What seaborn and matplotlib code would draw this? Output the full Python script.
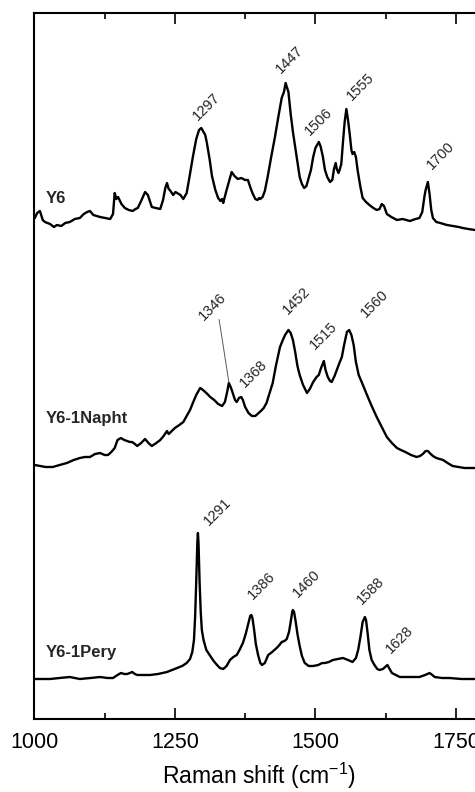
import numpy as np
import pandas as pd
import matplotlib
matplotlib.use("Agg")
import matplotlib.pyplot as plt
from matplotlib.ticker import MultipleLocator
import seaborn as sns

# Raman spectra (wavenumber in cm^-1, intensity in arbitrary units)
y6_shift = [1001, 1005, 1010, 1015, 1019, 1028, 1035, 1040, 1048, 1055, 1063, 1072, 1081, 1088, 1094,
            1099, 1105, 1111, 1117, 1126, 1135, 1140, 1143, 1146, 1149, 1155, 1161, 1168, 1175, 1180,
            1184, 1190, 1197, 1202, 1206, 1209, 1216, 1224, 1229, 1233, 1236, 1239, 1241, 1247, 1251,
            1254, 1260, 1265, 1271, 1276, 1282, 1288, 1293, 1297, 1300, 1304, 1307, 1312, 1316, 1322,
            1327, 1331, 1334, 1336, 1342, 1347, 1351, 1356, 1362, 1368, 1375, 1380, 1384, 1388, 1393,
            1397, 1400, 1402, 1406, 1410, 1415, 1421, 1428, 1434, 1440, 1444, 1447, 1452, 1456, 1460,
            1464, 1468, 1472, 1476, 1480, 1484, 1487, 1492, 1496, 1500, 1506, 1509, 1513, 1517, 1521,
            1526, 1530, 1533, 1536, 1538, 1541, 1543, 1546, 1549, 1552, 1555, 1558, 1561, 1564, 1566,
            1569, 1572, 1575, 1580, 1584, 1590, 1596, 1603, 1609, 1614, 1618, 1622, 1627, 1635, 1645,
            1655, 1668, 1678, 1685, 1690, 1694, 1696, 1700, 1703, 1706, 1709, 1715, 1722, 1734, 1745,
            1755, 1762, 1772, 1784]
y6_int = [14, 19, 21, 12, 10, 8, 5, 7, 6, 9, 10, 13, 14, 18, 20,
          21, 17, 16, 15, 14, 13, 18, 39, 33, 35, 28, 24, 22, 21, 23,
          24, 31, 40, 37, 30, 25, 24, 23, 32, 44, 49, 43, 42, 37, 40,
          39, 37, 33, 39, 55, 75, 93, 102, 104, 101, 97, 89, 72, 56, 42,
          34, 31, 33, 29, 42, 52, 60, 56, 53, 54, 52, 52, 45, 39, 33,
          32, 34, 33, 35, 41, 55, 74, 95, 115, 134, 140, 149, 140, 118, 100,
          85, 70, 55, 48, 44, 46, 52, 62, 75, 84, 90, 86, 76, 62, 55,
          50, 52, 63, 69, 63, 59, 62, 68, 90, 110, 123, 112, 98, 82, 78,
          80, 75, 62, 45, 34, 30, 27, 24, 22, 23, 28, 26, 18, 15, 12,
          13, 11, 13, 14, 20, 36, 42, 50, 38, 22, 14, 10, 9, 7, 6,
          5, 4, 3, 2]

napht_shift = [1001, 1010, 1020, 1033, 1045, 1058, 1070, 1081, 1090, 1099, 1108, 1117, 1125, 1131, 1137,
               1143, 1148, 1154, 1160, 1165, 1170, 1174, 1179, 1183, 1190, 1197, 1203, 1209, 1217, 1224,
               1230, 1236, 1239, 1241, 1250, 1258, 1265, 1272, 1277, 1282, 1288, 1295, 1300, 1306, 1313,
               1320, 1327, 1334, 1339, 1343, 1346, 1350, 1353, 1357, 1360, 1364, 1368, 1371, 1375, 1381,
               1387, 1393, 1397, 1403, 1408, 1413, 1418, 1424, 1430, 1437, 1442, 1446, 1452, 1456, 1460,
               1464, 1468, 1472, 1478, 1485, 1490, 1496, 1502, 1506, 1510, 1515, 1518, 1522, 1526, 1529,
               1534, 1538, 1542, 1547, 1551, 1556, 1560, 1564, 1568, 1572, 1577, 1583, 1591, 1600, 1609,
               1618, 1627, 1636, 1645, 1652, 1660, 1670, 1680, 1686, 1691, 1696, 1700, 1705, 1709, 1715,
               1721, 1727, 1735, 1744, 1755, 1765, 1775, 1784]
napht_int = [5, 4, 3, 3, 5, 7, 10, 12, 13, 13, 16, 17, 15, 15, 18,
             22, 30, 32, 30, 29, 28, 28, 26, 24, 27, 31, 27, 24, 27, 30,
             34, 39, 36, 37, 42, 45, 48, 55, 60, 67, 75, 82, 80, 77, 73,
             70, 66, 64, 68, 78, 87, 82, 77, 70, 68, 72, 73, 70, 63, 57,
             54, 54, 56, 59, 62, 67, 76, 87, 105, 123, 130, 135, 140, 137, 130,
             118, 104, 95, 85, 77, 81, 88, 93, 95, 102, 109, 100, 93, 89, 88,
             94, 100, 106, 113, 125, 138, 140, 135, 125, 108, 95, 87, 76, 64, 53,
             43, 33, 27, 22, 20, 18, 15, 13, 14, 16, 19, 19, 16, 14, 12,
             11, 10, 7, 4, 3, 2, 2, 2]

pery_shift = [1001, 1015, 1028, 1045, 1063, 1072, 1081, 1100, 1117, 1130, 1140, 1148, 1154, 1160, 1165,
              1170, 1174, 1179, 1183, 1195, 1206, 1220, 1236, 1245, 1254, 1263, 1271, 1277, 1281, 1284,
              1286, 1288, 1290, 1291, 1292, 1294, 1296, 1298, 1301, 1306, 1313, 1319, 1325, 1330, 1336,
              1342, 1348, 1354, 1360, 1365, 1371, 1376, 1380, 1384, 1386, 1388, 1391, 1394, 1398, 1402,
              1405, 1410, 1416, 1423, 1431, 1436, 1440, 1445, 1449, 1453, 1456, 1459, 1460, 1462, 1465,
              1468, 1472, 1476, 1481, 1488, 1496, 1505, 1512, 1517, 1524, 1531, 1540, 1549, 1558, 1566,
              1572, 1576, 1580, 1584, 1588, 1590, 1593, 1596, 1600, 1605, 1610, 1614, 1620, 1624, 1628,
              1632, 1636, 1643, 1650, 1665, 1685, 1695, 1703, 1708, 1712, 1725, 1738, 1760, 1784]
pery_int = [3, 3, 3, 4, 5, 4, 3, 4, 5, 4, 4, 7, 9, 8, 8,
            9, 10, 8, 7, 7, 7, 8, 10, 12, 14, 16, 19, 23, 30, 42,
            65, 100, 140, 149, 140, 100, 70, 52, 42, 32, 26, 21, 17, 14, 13,
            16, 22, 25, 27, 32, 39, 48, 57, 66, 67, 64, 52, 38, 27, 19,
            17, 19, 27, 30, 34, 37, 40, 41, 43, 50, 60, 71, 72, 70, 60,
            48, 36, 26, 19, 16, 16, 17, 19, 19, 20, 22, 23, 24, 22, 20,
            24, 32, 45, 60, 65, 62, 48, 32, 22, 17, 13, 12, 13, 15, 17,
            13, 9, 7, 5, 5, 5, 7, 9, 7, 5, 4, 4, 3, 3]

samples = ["Y6", "Y6-1Napht", "Y6-1Pery"]
offsets = [487, 249, 37]
y6_peaks = [1297, 1447, 1506, 1555, 1700]
napht_peaks = [1346, 1368, 1452, 1515, 1560]
pery_peaks = [1291, 1386, 1460, 1588, 1628]
x_ticks = [1000, 1250, 1500, 1750]

spectra = [(y6_shift, y6_int), (napht_shift, napht_int), (pery_shift, pery_int)]
frames = []
for name, off, (sh, it) in zip(samples, offsets, spectra):
    frames.append(pd.DataFrame({"shift": sh,
                                "signal": np.asarray(it, float) + off,
                                "sample": name}))
df = pd.concat(frames, ignore_index=True)

sns.set_style("ticks")
plt.rcParams["font.family"] = ["Liberation Sans", "DejaVu Sans"]
plt.rcParams["mathtext.fontset"] = "custom"
plt.rcParams["mathtext.rm"] = "Liberation Sans"
plt.rcParams["mathtext.it"] = "Liberation Sans:italic"

W, H = 475, 792
fig = plt.figure(figsize=(W / 100, H / 100), dpi=100)
ax = fig.add_axes([34.3 / W, 73 / H, 449.8 / W, 706.3 / H])

sns.lineplot(data=df, x="shift", y="signal", units="sample", estimator=None,
             sort=False, color="black", lw=1.7, ax=ax)

ax.set_xlim(1000, 1800)
ax.set_ylim(0, 706.3)
ax.set_xticks(x_ticks)
ax.xaxis.set_minor_locator(MultipleLocator(125))
ax.set_yticks([])
ax.tick_params(axis="x", which="both", direction="in", top=True, bottom=True,
               labelsize=15.5, pad=9, color="black", labelcolor="black")
ax.tick_params(axis="x", which="major", length=8, width=1.2)
ax.tick_params(axis="x", which="minor", length=4.3, width=1.2)
for sp in ax.spines.values():
    sp.set_linewidth(1.5)
    sp.set_color("black")
ax.set_xlabel(r"Raman shift (cm$^{-1}$)", fontsize=16.5, labelpad=6, color="black")
ax.set_ylabel("")

# sample names
name_pos = [(1021, 521), (1021, 301), (1021, 67)]
for name, (xp, yp) in zip(samples, name_pos):
    ax.text(xp, yp, name, fontsize=12, fontweight="bold", ha="left", va="center")

# peak labels, offsets in points from the peak maximum
label_offsets = {
    "Y6": [(4, 15), (3, 17), (0, 15), (10, 16), (9, 19)],
    "Y6-1Napht": [(-12, 55), (9, 17), (6, 21), (0, 18), (18, 19)],
    "Y6-1Pery": [(14, 15), (7, 21), (10, 19), (4, 19), (9, 18)],
}
peak_sets = [y6_peaks, napht_peaks, pery_peaks]
for name, off, (sh, it), peaks in zip(samples, offsets, spectra, peak_sets):
    for pk, (dx, dy) in zip(peaks, label_offsets[name]):
        yv = np.interp(pk, sh, it) + off
        ax.annotate(str(pk), xy=(pk, yv), xytext=(dx, dy), textcoords="offset points",
                    rotation=45, ha="center", va="center", fontsize=10.5)

# leader line for the 1346 shoulder
yv = np.interp(1346, napht_shift, napht_int) + offsets[1]
ax.annotate("", xy=(1346, yv + 1), xytext=(-7, 45), textcoords="offset points",
            arrowprops=dict(arrowstyle="-", lw=0.7, color="0.35", shrinkA=0, shrinkB=0))

fig.savefig("out.png", dpi=100)
